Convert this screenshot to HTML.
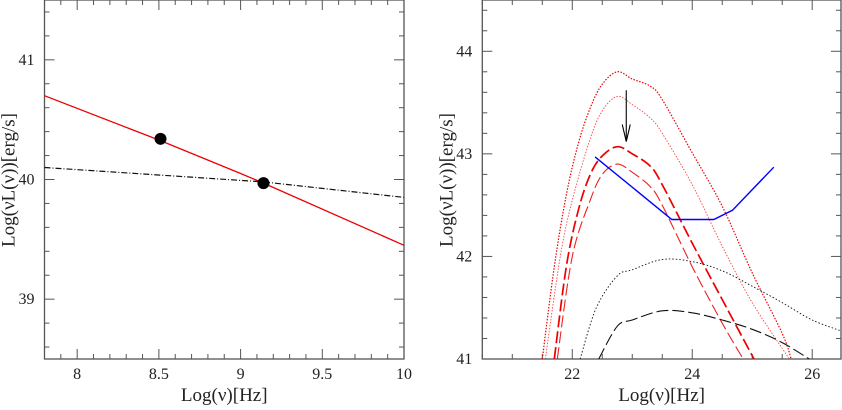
<!DOCTYPE html>
<html><head><meta charset="utf-8"><style>
body{margin:0;background:#fff;}
text{font-family:"Liberation Serif","DejaVu Serif",serif;fill:#222;}
</style></head><body>
<svg id="chart" width="842" height="405" viewBox="0 0 842 405" xmlns="http://www.w3.org/2000/svg" font-family="Liberation Serif, serif"></svg>
<script>
// Left panel data
const leftXTicks = [8, 8.5, 9, 9.5, 10];
const leftYTicks = [39, 40, 41];
const redLineX = [7.8, 8.5, 9.0, 9.14, 10.0];
const redLineY = [40.70, 40.33, 40.05, 39.97, 39.45];
const blackLineX = [7.8, 9.14, 10.0];
const blackLineY = [40.10, 39.98, 39.85];
const pointsX = [8.51, 9.14];
const pointsY = [40.34, 39.97];
// Right panel data
const rightXTicks = [22, 24, 26];
const rightYTicks = [41, 42, 43, 44];
const redDot1X = [21.5, 21.7, 21.9, 22.1, 22.3, 22.5, 22.75, 23.0, 23.3, 23.5, 24.0, 24.5, 25.0, 25.5, 25.65];
const redDot1Y = [41, 41.9, 42.6, 43.1, 43.45, 43.68, 43.8, 43.73, 43.66, 43.53, 43.01, 42.49, 41.84, 41.25, 41];
const redDot2X = [21.55, 21.8, 22.0, 22.3, 22.5, 22.75, 23.0, 23.3, 23.5, 24.0, 24.5, 25.0, 25.62];
const redDot2Y = [41, 42.0, 42.55, 43.15, 43.42, 43.56, 43.48, 43.35, 43.2, 42.7, 42.1, 41.55, 41];
const redDash1X = [21.7, 21.9, 22.1, 22.3, 22.5, 22.75, 23.0, 23.3, 23.5, 24.0, 24.5, 25.03];
const redDash1Y = [41, 41.9, 42.45, 42.8, 42.98, 43.07, 43.0, 42.88, 42.7, 42.13, 41.58, 41];
const redDash2X = [21.75, 22.0, 22.3, 22.5, 22.75, 23.0, 23.3, 23.5, 24.0, 24.5, 24.85];
const redDash2Y = [41, 42.0, 42.55, 42.8, 42.9, 42.82, 42.68, 42.5, 41.9, 41.35, 41];
const blackDotX = [22.13, 22.4, 22.75, 23.0, 23.5, 24.0, 24.5, 25.0, 25.5, 26.0, 26.5];
const blackDotY = [41, 41.5, 41.81, 41.87, 41.97, 41.95, 41.86, 41.71, 41.55, 41.38, 41.27];
const blackDashX = [22.44, 22.75, 23.0, 23.5, 24.0, 24.5, 25.0, 25.5, 25.95];
const blackDashY = [41, 41.32, 41.38, 41.47, 41.45, 41.38, 41.29, 41.16, 41];
const blueX = [22.38, 23.66, 24.36, 24.67, 25.36];
const blueY = [42.97, 42.36, 42.36, 42.45, 42.87];
const arrowX = [22.9];
const arrowY = [43.62, 43.12];

const NS = "http://www.w3.org/2000/svg";
const svg = document.getElementById('chart');
function mk(tag, attrs, parent){const e=document.createElementNS(NS,tag);for(const k in attrs)e.setAttribute(k,attrs[k]);(parent||svg).appendChild(e);return e;}

const L = {x0:44.5,x1:404,y0:0,y1:359,xmin:7.8,xmax:10,ymin:38.5,ymax:41.5};
const R = {x0:482.3,x1:841,y0:0,y1:359,xmin:20.5,xmax:26.48,ymin:41,ymax:44.5};
function sx(p,v){return p.x0+(v-p.xmin)/(p.xmax-p.xmin)*(p.x1-p.x0);}
function sy(p,v){return p.y1-(v-p.ymin)/(p.ymax-p.ymin)*(p.y1-p.y0);}
const FF = '"Liberation Serif", serif';

function frame(p, name, minorX, minorY, xt, yt){
  const g = mk('g',{});
  
  
  const r = mk('rect',{x:p.x0,y:p.y0,width:p.x1-p.x0,height:p.y1-p.y0,fill:'none',stroke:'#555','stroke-width':1.3},g);
  
  
  for(let v=Math.ceil(p.xmin/minorX)*minorX; v<=p.xmax+1e-6; v+=minorX){
    const major = xt.some(t=>Math.abs(t-v)<1e-6);
    const x=sx(p,v), len=major?10:5;
    mk('line',{x1:x,x2:x,y1:p.y1,y2:p.y1-len,stroke:'#555'},g);
    mk('line',{x1:x,x2:x,y1:p.y0,y2:p.y0+len,stroke:'#555'},g);
  }
  for(let v=Math.ceil(p.ymin/minorY)*minorY; v<=p.ymax+1e-6; v+=minorY){
    const major = yt.some(t=>Math.abs(t-v)<1e-6);
    const y=sy(p,v), len=major?10:5;
    mk('line',{x1:p.x0,x2:p.x0+len,y1:y,y2:y,stroke:'#555'},g);
    mk('line',{x1:p.x1,x2:p.x1-len,y1:y,y2:y,stroke:'#555'},g);
  }
  xt.forEach(t=>{const e=mk('text',{x:sx(p,t),y:379,'text-anchor':'middle','font-size':16,'font-family':FF},g);e.textContent=String(t);
    });
  yt.forEach(t=>{const e=mk('text',{x:p.x0-10,y:sy(p,t)+5,'text-anchor':'end','font-size':16,'font-family':FF},g);e.textContent=String(t);
    });
  const xl=mk('text',{x:(p.x0+p.x1)/2,y:401,'text-anchor':'middle','font-size':19,'font-family':FF},g);
  xl.textContent='Log(\u03BD)[Hz]';
  
  const cx=p.x0-30, cy=180;
  const yl=mk('text',{x:cx,y:cy,'text-anchor':'middle','font-size':19,'font-family':FF,transform:`rotate(-90 ${cx} ${cy})`},g);
  yl.textContent='Log(\u03BDL(\u03BD))[erg/s]';
  
}
frame(L,'left-panel',0.1,0.2,leftXTicks,leftYTicks);
frame(R,'right-panel',0.5,0.2,rightXTicks,rightYTicks);

mk('clipPath',{id:'cl'}); document.getElementById('cl').appendChild(mk('rect',{x:L.x0,y:L.y0,width:L.x1-L.x0,height:L.y1-L.y0}));
mk('clipPath',{id:'cr'}); document.getElementById('cr').appendChild(mk('rect',{x:R.x0,y:R.y0,width:R.x1-R.x0,height:R.y1-R.y0}));

function series(p, xs, ys, style, name, clip, smooth){
  const P = xs.map((x,i)=>[sx(p,x), sy(p,ys[i])]);
  let d = 'M'+P[0][0].toFixed(1)+','+P[0][1].toFixed(1);
  for(let i=0;i<P.length-1;i++){
    if(!smooth){ d+=' L'+P[i+1][0].toFixed(1)+','+P[i+1][1].toFixed(1); continue; }
    const p0=P[Math.max(0,i-1)], p1=P[i], p2=P[i+1], p3=P[Math.min(P.length-1,i+2)];
    const c1=[p1[0]+(p2[0]-p0[0])/6, p1[1]+(p2[1]-p0[1])/6];
    const c2=[p2[0]-(p3[0]-p1[0])/6, p2[1]-(p3[1]-p1[1])/6];
    d+=` C${c1[0].toFixed(1)},${c1[1].toFixed(1)} ${c2[0].toFixed(1)},${c2[1].toFixed(1)} ${p2[0].toFixed(1)},${p2[1].toFixed(1)}`;
  }
  const e = mk('path',Object.assign({d:d,fill:'none','clip-path':`url(#${clip})`},style));
  
  
}
series(L, redLineX, redLineY, {stroke:'#e00','stroke-width':1.3}, 'red-line', 'cl', false);
series(L, blackLineX, blackLineY, {stroke:'#111','stroke-width':1.2,'stroke-dasharray':'6 2 1 2'}, 'black-line', 'cl', false);
pointsX.forEach((x,i)=>{const c=mk('circle',{cx:sx(L,x),cy:sy(L,pointsY[i]),r:6,fill:'#000'});
  });

series(R, redDot1X, redDot1Y, {stroke:'#e00','stroke-width':1.2,'stroke-dasharray':'1.5 1.5'}, 'red-dotted-upper', 'cr', true);
series(R, redDot2X, redDot2Y, {stroke:'#f44','stroke-width':0.9,'stroke-dasharray':'1.5 1.5'}, 'red-dotted-lower', 'cr', true);
series(R, redDash1X, redDash1Y, {stroke:'#e00','stroke-width':1.7,'stroke-dasharray':'12 4'}, 'red-dashed-thick', 'cr', true);
series(R, redDash2X, redDash2Y, {stroke:'#e22','stroke-width':1.1,'stroke-dasharray':'12 4'}, 'red-dashed-thin', 'cr', true);
series(R, blackDotX, blackDotY, {stroke:'#111','stroke-width':0.9,'stroke-dasharray':'1.5 2'}, 'black-dotted', 'cr', true);
series(R, blackDashX, blackDashY, {stroke:'#111','stroke-width':1.1,'stroke-dasharray':'12 4'}, 'black-dashed', 'cr', true);
series(R, blueX, blueY, {stroke:'#00f','stroke-width':1.4}, 'blue-sensitivity', 'cr', false);

const ax=sx(R,arrowX[0]), ay1=sy(R,arrowY[0]), ay2=sy(R,arrowY[1]);
const ag=mk('g',{});


mk('line',{x1:ax,x2:ax,y1:ay1,y2:ay2,stroke:'#000','stroke-width':1.1},ag);
mk('path',{d:`M${ax-4},${ay2-17} L${ax},${ay2} L${ax+4},${ay2-17}`,fill:'none',stroke:'#000','stroke-width':1.1},ag);
</script>
</body></html>
